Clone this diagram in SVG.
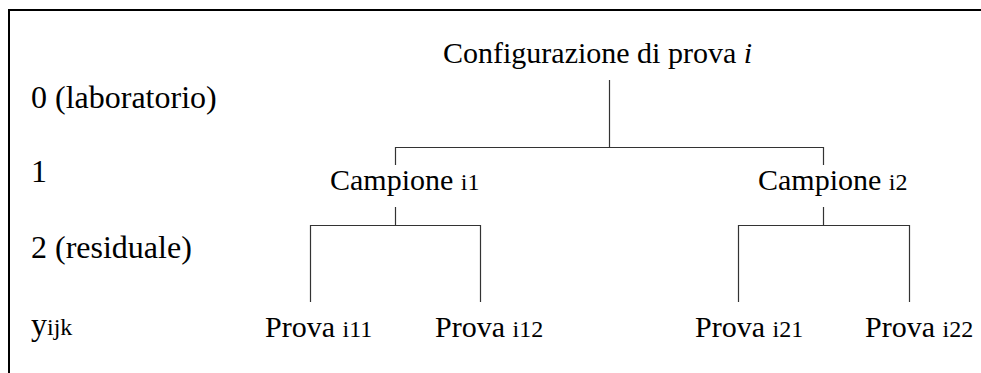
<svg xmlns="http://www.w3.org/2000/svg" width="981" height="373" viewBox="0 0 981 373">
  <style>
    text { font-family: "Liberation Serif", "Times New Roman", serif; font-size: 30px; fill: #000; }
    .lvl { font-size: 32px; }
    .sub { font-size: 24px; }
    .it { font-style: italic; }
    .wire { fill: none; stroke: #333; stroke-width: 1.2; }
    .frame { fill: none; stroke: #000; stroke-width: 2; }
  </style>
  <rect width="981" height="373" fill="#fff"/>
  <path class="frame" d="M9,373 V10 H981"/>

  <g id="levels">
    <text class="lvl" x="31" y="108">0 (laboratorio)</text>
    <text class="lvl" x="31" y="182">1</text>
    <text class="lvl" x="31" y="258">2 (residuale)</text>
    <text class="lvl" x="31" y="335">y<tspan class="sub">ijk</tspan></text>
  </g>

  <g id="connectors">
    <path class="wire" d="M609.5,80 V147.5"/>
    <path class="wire" d="M395.5,165 V147.5 H823.5 V165"/>
    <path class="wire" d="M395.5,207 V225.5"/>
    <path class="wire" d="M823.5,207 V225.5"/>
    <path class="wire" d="M310.5,302 V225.5 H480.5 V302"/>
    <path class="wire" d="M738.5,302 V225.5 H909.5 V302"/>
  </g>

  <g id="config">
    <text x="443" y="63">Configurazione di prova <tspan class="it">i</tspan></text>
  </g>
  <g id="campione-i1">
    <text x="330" y="190">Campione <tspan class="sub">i1</tspan></text>
  </g>
  <g id="campione-i2">
    <text x="758" y="190">Campione <tspan class="sub">i2</tspan></text>
  </g>
  <g id="prova-i11">
    <text x="265" y="337">Prova <tspan class="sub">i11</tspan></text>
  </g>
  <g id="prova-i12">
    <text x="435" y="337">Prova <tspan class="sub">i12</tspan></text>
  </g>
  <g id="prova-i21">
    <text x="695" y="337">Prova <tspan class="sub">i21</tspan></text>
  </g>
  <g id="prova-i22">
    <text x="865" y="337">Prova <tspan class="sub">i22</tspan></text>
  </g>
</svg>
